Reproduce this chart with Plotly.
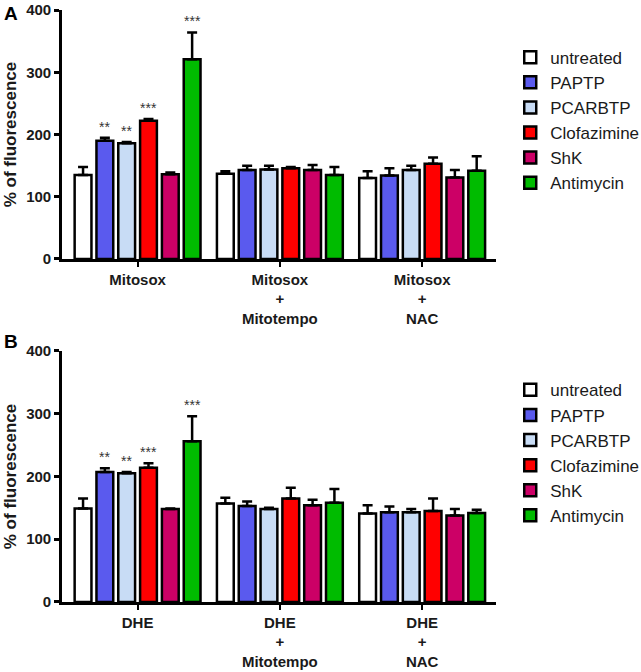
import plotly.graph_objects as go

# --- data ---
treatments = ["untreated", "PAPTP", "PCARBTP", "Clofazimine", "ShK", "Antimycin"]
colors = ["#ffffff", "#5a5aee", "#c8dcf5", "#ff0000", "#cc0066", "#00bb00"]

groups_a = ["Mitosox", "Mitosox<br>+<br>Mitotempo", "Mitosox<br>+<br>NAC"]
groups_b = ["DHE", "DHE<br>+<br>Mitotempo", "DHE<br>+<br>NAC"]

# values per treatment, one entry per group
mean_a = {
    "untreated":   [135, 137, 130],
    "PAPTP":       [190, 143, 134],
    "PCARBTP":     [186, 144, 143],
    "Clofazimine": [222, 146, 153],
    "ShK":         [136, 143, 131],
    "Antimycin":   [321, 135, 142],
}
err_a = {
    "untreated":   [13, 4, 11],
    "PAPTP":       [5, 7, 12],
    "PCARBTP":     [2, 6, 7],
    "Clofazimine": [3, 2, 10],
    "ShK":         [3, 8, 12],
    "Antimycin":   [43, 13, 23],
}
mean_b = {
    "untreated":   [149, 157, 141],
    "PAPTP":       [207, 153, 143],
    "PCARBTP":     [205, 148, 143],
    "Clofazimine": [214, 165, 145],
    "ShK":         [148, 154, 138],
    "Antimycin":   [256, 158, 142],
}
err_b = {
    "untreated":   [16, 9, 13],
    "PAPTP":       [6, 7, 9],
    "PCARBTP":     [2, 2, 5],
    "Clofazimine": [7, 17, 20],
    "ShK":         [1, 9, 10],
    "Antimycin":   [40, 22, 5],
}
# significance marks (treatment, group index, label)
stars_a = [("PAPTP", 0, "**"), ("PCARBTP", 0, "**"),
           ("Clofazimine", 0, "***"), ("Antimycin", 0, "***")]
stars_b = [("PAPTP", 0, "**"), ("PCARBTP", 0, "**"),
           ("Clofazimine", 0, "***"), ("Antimycin", 0, "***")]

BARGAP = 0.08
FONT = "Liberation Sans, Arial, sans-serif"

fig = go.Figure()


def add_panel(groups, means, errs, xaxis, yaxis, legend):
    for name, col in zip(treatments, colors):
        fig.add_trace(go.Bar(
            x=groups,
            y=means[name],
            name=name,
            marker=dict(color=col, line=dict(color="black", width=2.5)),
            error_y=dict(type="data", symmetric=False, array=errs[name],
                         arrayminus=[0] * len(groups), color="black",
                         thickness=2.5, width=5),
            xaxis=xaxis, yaxis=yaxis, legend=legend,
            legendgroup=legend + name,
        ))


def add_stars(stars, means, errs, xref, yref):
    slot = (1 - BARGAP) / len(treatments)
    for name, gi, label in stars:
        i = treatments.index(name)
        fig.add_annotation(
            x=gi + (i - (len(treatments) - 1) / 2) * slot,
            y=means[name][gi] + errs[name][gi],
            xref=xref, yref=yref, text=label, showarrow=False,
            yanchor="bottom", yshift=1,
            font=dict(family=FONT, size=14, color="#333333"),
        )


add_panel(groups_a, mean_a, err_a, "x", "y", "legend")
add_panel(groups_b, mean_b, err_b, "x2", "y2", "legend2")
add_stars(stars_a, mean_a, err_a, "x", "y")
add_stars(stars_b, mean_b, err_b, "x2", "y2")

xcommon = dict(
    type="category", range=[-0.53, 2.52], showline=True, linecolor="black",
    linewidth=3, ticks="outside", ticklen=5, tickwidth=2, tickcolor="black",
    showgrid=False, zeroline=False, automargin=False,
    tickfont=dict(family=FONT, size=15, color="#1a1a1a", weight="bold"),
    domain=[0.097, 0.774],
)
ycommon = dict(
    range=[0, 400], dtick=100, showline=True, linecolor="black",
    linewidth=3, ticks="outside", ticklen=5, tickwidth=2.5, tickcolor="black",
    showgrid=False, zeroline=False, automargin=False,
    tickfont=dict(family=FONT, size=15, color="#1a1a1a", weight="bold"),
    title=dict(text="% of fluorescence", standoff=6,
               font=dict(family=FONT, size=17, color="#1a1a1a", weight="bold")),
)

legend_common = dict(
    font=dict(family=FONT, size=17, color="#1a1a1a"),
    bgcolor="rgba(0,0,0,0)", tracegroupgap=0, traceorder="grouped",
    xanchor="left", yanchor="top", x=0.796,
)

fig.update_layout(
    width=641, height=672,
    margin=dict(l=0, r=0, t=0, b=0, autoexpand=False),
    paper_bgcolor="white", plot_bgcolor="white",
    barmode="group", bargap=BARGAP, bargroupgap=0.23,
    xaxis=dict(xcommon, anchor="y"),
    yaxis=dict(ycommon, domain=[0.6146, 0.985], anchor="x"),
    xaxis2=dict(xcommon, anchor="y2"),
    yaxis2=dict(ycommon, domain=[0.1042, 0.4777], anchor="x2"),
    legend=dict(legend_common, y=0.941),
    legend2=dict(legend_common, y=0.446),
)

for label, ypos in [("A", 0.999), ("B", 0.51)]:
    fig.add_annotation(
        x=0.003, y=ypos, xref="paper", yref="paper", text=label,
        showarrow=False, xanchor="left", yanchor="top",
        font=dict(family=FONT, size=19, color="black", weight="bold"),
    )

# the page's default body margin would shift the figure by 8px
fig.write_html("out.html",
               config={"displayModeBar": False},
               post_script="document.body.style.margin='0';")
